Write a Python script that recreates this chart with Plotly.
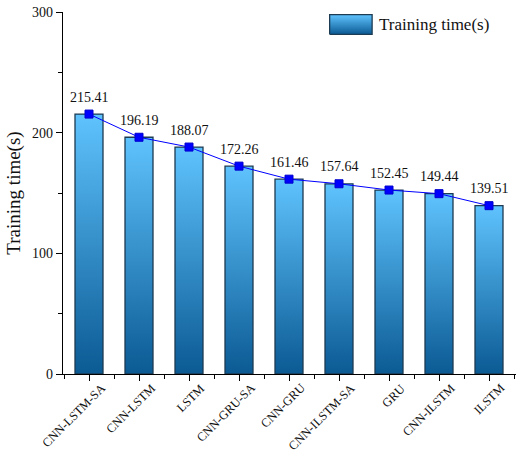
import plotly.graph_objects as go

models = ["CNN-LSTM-SA", "CNN-LSTM", "LSTM", "CNN-GRU-SA", "CNN-GRU",
          "CNN-ILSTM-SA", "GRU", "CNN-ILSTM", "ILSTM"]
train_time = [215.41, 196.19, 188.07, 172.26, 161.46, 157.64, 152.45, 149.44, 139.51]

series_name = "Training time(s)"
bar_width = 0.56
light = "#5fc3fd"
dark = "#0b5a94"
edge = "#1d3b52"
font_family = "Liberation Serif, Times New Roman, serif"
gradient = [[0, dark], [1, light]]

fig = go.Figure()

# Bars drawn as filled polygons so each one gets its own vertical gradient
for i, v in enumerate(train_time):
    x0, x1 = i - bar_width / 2, i + bar_width / 2
    fig.add_trace(go.Scatter(
        x=[x0, x1, x1, x0, x0],
        y=[0, 0, v, v, 0],
        mode="lines",
        fill="toself",
        fillgradient=dict(type="vertical", colorscale=gradient),
        line=dict(color=edge, width=1.3),
        name=series_name,
        showlegend=False,
        hoverinfo="skip",
    ))

# Trend line through the bar tops
fig.add_trace(go.Scatter(
    x=list(range(len(models))),
    y=train_time,
    mode="lines+markers",
    line=dict(color="#0000ff", width=1),
    marker=dict(symbol="square", size=8, color="#0000ff",
                line=dict(color="#0000cc", width=1)),
    showlegend=False,
))

# Value labels above each point
for i, v in enumerate(train_time):
    fig.add_annotation(x=i, y=v, text=f"{v:.2f}", showarrow=False,
                       yshift=17, font=dict(family=font_family, size=14, color="#111"))

# Slanted category labels under the ticks
for i, name in enumerate(models):
    fig.add_annotation(x=i, y=0, xref="x", yref="paper", text=name,
                       showarrow=False, textangle=-45,
                       xanchor="right", yanchor="top", xshift=20, yshift=-6,
                       borderpad=0,
                       font=dict(family=font_family, size=12.4, color="#111"))

# Legend key: a gradient swatch on its own small hidden axes, plus its label
fig.add_trace(go.Scatter(
    x=[0, 1, 1, 0, 0], y=[0, 0, 1, 1, 0],
    xaxis="x2", yaxis="y2",
    mode="lines", fill="toself",
    fillgradient=dict(type="vertical", colorscale=gradient),
    line=dict(color=edge, width=1.3),
    showlegend=False, hoverinfo="skip",
))
fig.add_annotation(x=0.694, y=0.966, xref="paper", yref="paper",
                   text=series_name, showarrow=False, xanchor="left", yanchor="middle",
                   font=dict(family=font_family, size=17, color="#111"))

axis_common = dict(
    showline=True, linecolor="black", linewidth=1.2,
    ticks="outside", ticklen=6, tickcolor="black",
    showgrid=False, zeroline=False, automargin=False,
)

fig.update_layout(
    width=522, height=453,
    margin=dict(l=63, r=6, t=12, b=79, autoexpand=False),
    plot_bgcolor="white", paper_bgcolor="white",
    font=dict(family=font_family, color="#111"),
    showlegend=False,
    xaxis=dict(
        range=[-0.52, 8.54],
        tickmode="array",
        tickvals=list(range(len(models))),
        showticklabels=False,
        minor=dict(tick0=-0.5, dtick=1, ticks="outside", ticklen=4, tickcolor="black"),
        **axis_common,
    ),
    yaxis=dict(
        range=[0, 300],
        tickmode="array",
        tickvals=[0, 100, 200, 300],
        tickfont=dict(family=font_family, size=14),
        title=dict(text="Training time(s)", font=dict(family=font_family, size=19), standoff=6),
        minor=dict(tick0=0, dtick=50, ticks="outside", ticklen=4, tickcolor="black"),
        **axis_common,
    ),
    xaxis2=dict(domain=[0.583, 0.688], range=[-0.06, 1.06], anchor="y2",
                visible=False, fixedrange=True),
    yaxis2=dict(domain=[0.933, 0.998], range=[-0.1, 1.1], anchor="x2",
                visible=False, fixedrange=True),
)

fig.write_html("out.html")
